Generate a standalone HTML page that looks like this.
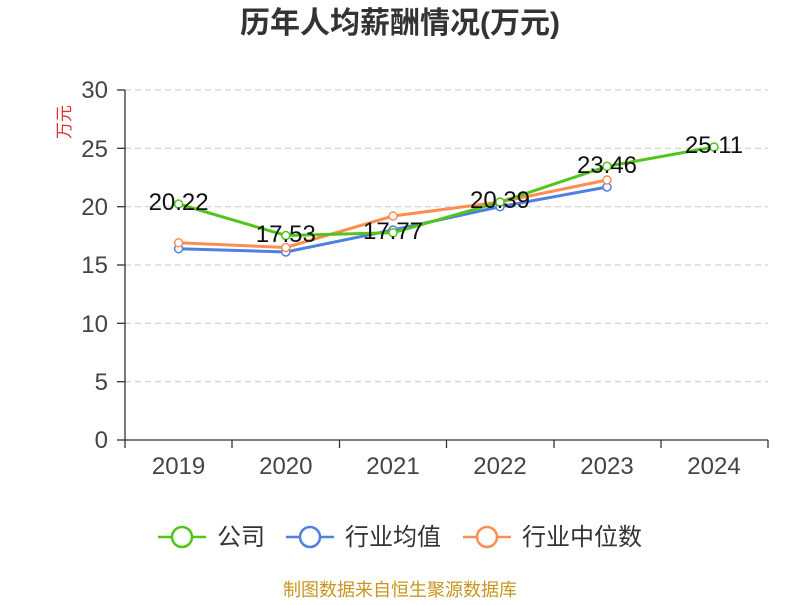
<!DOCTYPE html>
<html><head><meta charset="utf-8"><style>
body{margin:0;background:#fff;}
svg text{font-family:"Liberation Sans","Noto Sans CJK SC",sans-serif;}
</style></head><body>
<svg width="800" height="600" xmlns="http://www.w3.org/2000/svg">
<text x="400" y="33" text-anchor="middle" font-size="30" font-weight="bold" fill="#333">历年人均薪酬情况(万元)</text>
<text transform="translate(70,122) rotate(-90)" text-anchor="middle" font-size="17" fill="#e03030">万元</text>
<g stroke="#c8c8c8" stroke-dasharray="6,4" stroke-width="1">
<line x1="125" x2="768" y1="90" y2="90"/><line x1="125" x2="768" y1="148.3" y2="148.3"/>
<line x1="125" x2="768" y1="206.7" y2="206.7"/><line x1="125" x2="768" y1="265" y2="265"/>
<line x1="125" x2="768" y1="323.3" y2="323.3"/><line x1="125" x2="768" y1="381.7" y2="381.7"/>
</g>
<g stroke="#333" stroke-width="1.3">
<line x1="125" x2="125" y1="90" y2="440"/><line x1="125" x2="768" y1="440" y2="440"/>
<line x1="117" x2="125" y1="90" y2="90"/><line x1="117" x2="125" y1="148.3" y2="148.3"/>
<line x1="117" x2="125" y1="206.7" y2="206.7"/><line x1="117" x2="125" y1="265" y2="265"/>
<line x1="117" x2="125" y1="323.3" y2="323.3"/><line x1="117" x2="125" y1="381.7" y2="381.7"/>
<line x1="117" x2="125" y1="440" y2="440"/>
<line x1="125" x2="125" y1="440" y2="448"/><line x1="232" x2="232" y1="440" y2="448"/>
<line x1="339.5" x2="339.5" y1="440" y2="448"/><line x1="446.5" x2="446.5" y1="440" y2="448"/>
<line x1="554" x2="554" y1="440" y2="448"/><line x1="661" x2="661" y1="440" y2="448"/>
<line x1="768" x2="768" y1="440" y2="448"/>
</g>
<g font-size="24" fill="#444" text-anchor="end">
<text x="108" y="98">30</text><text x="108" y="157">25</text><text x="108" y="215">20</text>
<text x="108" y="273">15</text><text x="108" y="332">10</text><text x="108" y="390">5</text><text x="108" y="448">0</text>
</g>
<g font-size="24" fill="#444" text-anchor="middle">
<text x="178.6" y="474">2019</text><text x="285.8" y="474">2020</text><text x="393" y="474">2021</text>
<text x="500" y="474">2022</text><text x="607" y="474">2023</text><text x="714" y="474">2024</text>
</g>
<polyline fill="none" stroke="#4f7fe0" stroke-width="3" points="178.6,248.7 285.8,252 393,230 500,206.7 607,187"/>
<polyline fill="none" stroke="#ff8c50" stroke-width="3" points="178.6,242.8 285.8,247.5 393,216 500,202 607,180"/>
<polyline fill="none" stroke="#52c41a" stroke-width="3" points="178.6,204 285.8,235.5 393,232.7 500,202.1 607,166.3 714,147"/>
<g fill="#fff" stroke="#4f7fe0" stroke-width="1.5">
<circle cx="178.6" cy="248.7" r="4"/><circle cx="285.8" cy="252" r="4"/><circle cx="393" cy="230" r="4"/><circle cx="500" cy="206.7" r="4"/><circle cx="607" cy="187" r="4"/></g>
<g fill="#fff" stroke="#ff8c50" stroke-width="1.5">
<circle cx="178.6" cy="242.8" r="4"/><circle cx="285.8" cy="247.5" r="4"/><circle cx="393" cy="216" r="4"/><circle cx="500" cy="202" r="4"/><circle cx="607" cy="180" r="4"/></g>
<g fill="#fff" stroke="#52c41a" stroke-width="1.5">
<circle cx="178.6" cy="204" r="4"/><circle cx="285.8" cy="235.5" r="4"/><circle cx="393" cy="232.7" r="4"/><circle cx="500" cy="202.1" r="4"/><circle cx="607" cy="166.3" r="4"/><circle cx="714" cy="147" r="4"/></g>
<g font-size="24" fill="#111" text-anchor="middle">
<text x="178.6" y="210">20.22</text><text x="285.8" y="242">17.53</text><text x="393" y="239">17.77</text>
<text x="500" y="208">20.39</text><text x="607" y="173">23.46</text><text x="714" y="153">25.11</text>
</g>
<g stroke-width="2.5" fill="#fff">
<line x1="158" x2="206" y1="537" y2="537" stroke="#52c41a"/><circle cx="182" cy="537" r="10" stroke="#52c41a"/>
<line x1="286" x2="334" y1="537" y2="537" stroke="#4f7fe0"/><circle cx="310" cy="537" r="10" stroke="#4f7fe0"/>
<line x1="463" x2="511" y1="537" y2="537" stroke="#ff8c50"/><circle cx="487" cy="537" r="10" stroke="#ff8c50"/>
</g>
<g font-size="24" fill="#333">
<text x="217" y="545">公司</text><text x="345" y="545">行业均值</text><text x="522" y="545">行业中位数</text>
</g>
<text x="400" y="596" text-anchor="middle" font-size="18" fill="#c8961e">制图数据来自恒生聚源数据库</text>
</svg>
</body></html>
